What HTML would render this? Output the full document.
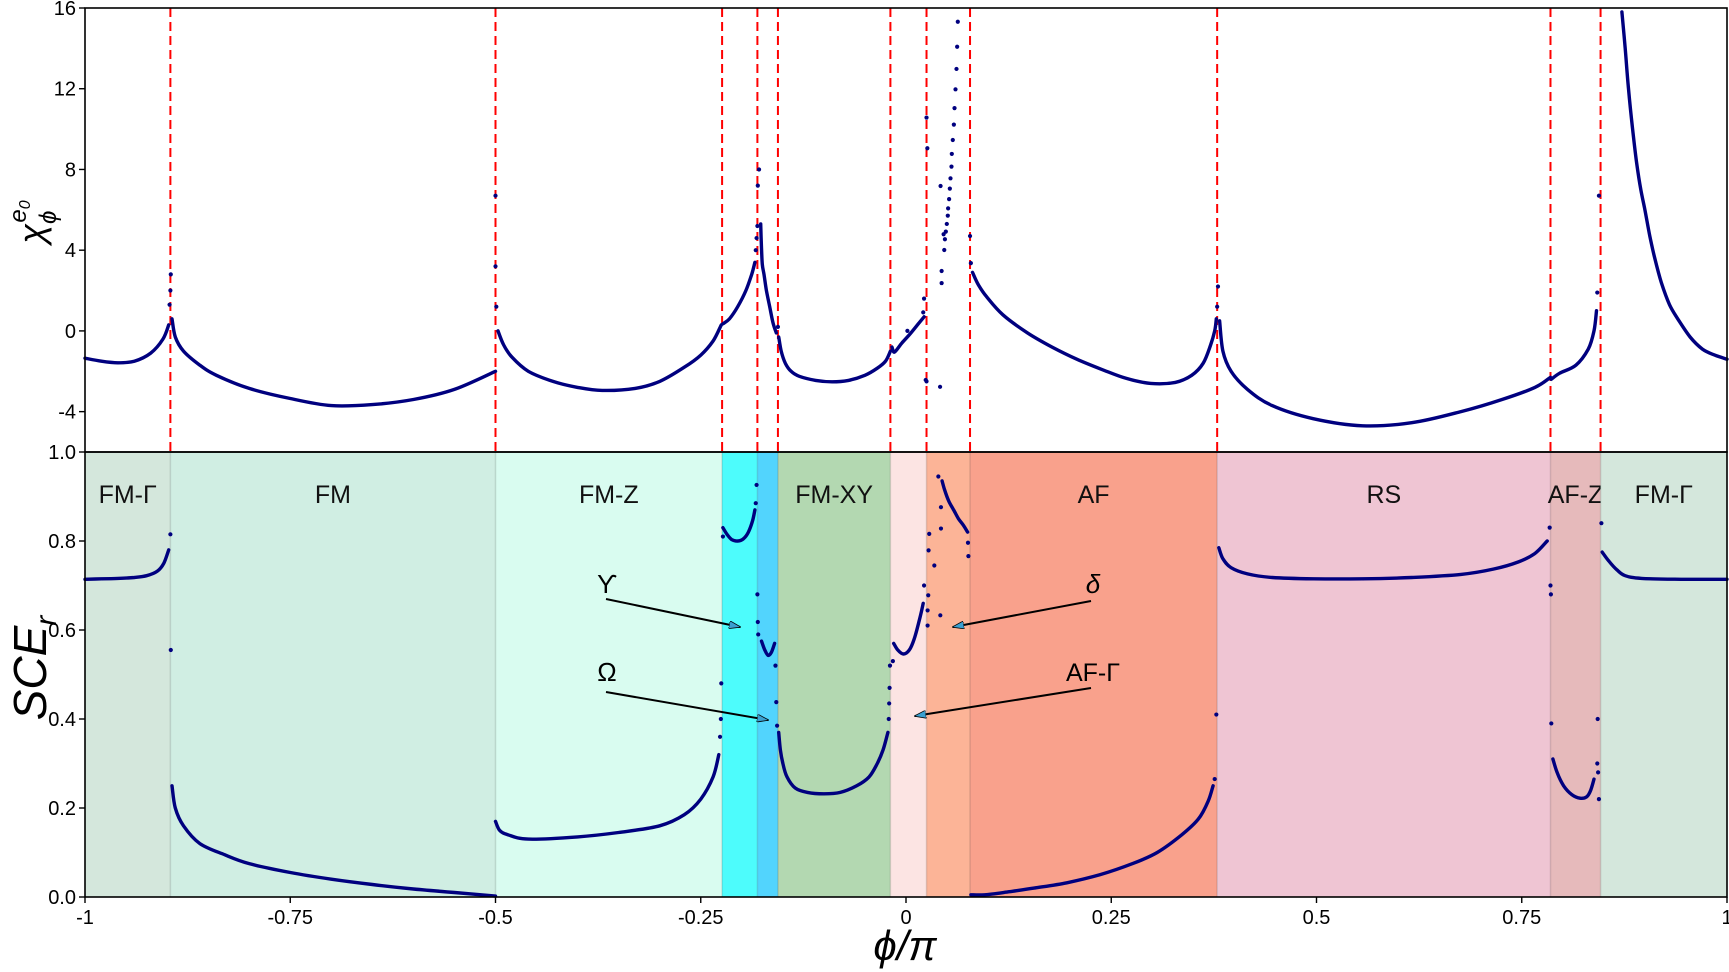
<!DOCTYPE html>
<html><head><meta charset="utf-8">
<style>
html,body{margin:0;padding:0;background:#fff;}
svg{display:block;}
text{font-family:"Liberation Sans","DejaVu Sans",sans-serif;}
</style></head>
<body>
<svg id="chart" width="1729" height="972" viewBox="0 0 1729 972" xmlns="http://www.w3.org/2000/svg">
<g id="regions"></g>
<g id="vlines"></g>
<g id="marks"></g>
<g id="axes"></g>
<g id="annot"></g>
</svg>
<script>
// ---- data ----
const boundaries = [-1, -0.896, -0.5, -0.224, -0.181, -0.156, -0.019, 0.025, 0.078, 0.379, 0.785, 0.846, 1];
const phaseNames = ["FM-Γ","FM","FM-Z","","","FM-XY","","","AF","RS","AF-Z","FM-Γ"];
const phaseColors = ["#d4e7dc","#d0eee3","#d9fcf0","#4dfcfc","#52d4fd","#b3d8b1","#fce4e3","#fcb497","#f9a18c","#efc5d3","#e6babb","#d4e7dc"];
const xTicks = [-1,-0.75,-0.5,-0.25,0,0.25,0.5,0.75,1];
const xTickLabels = ["-1","-0.75","-0.5","-0.25","0","0.25","0.5","0.75","1"];
const chiTicks = [-4,0,4,8,12,16];
const sceTicks = [0,0.2,0.4,0.6,0.8,1.0];
const sceTickLabels = ["0.0","0.2","0.4","0.6","0.8","1.0"];

const chiCurvePhi = [
 [-1,-0.98,-0.96,-0.94,-0.92,-0.905,-0.898],
 [-0.894,-0.89,-0.88,-0.86,-0.84,-0.80,-0.75,-0.70,-0.65,-0.60,-0.55,-0.5],
 [-0.497,-0.49,-0.48,-0.46,-0.43,-0.40,-0.37,-0.33,-0.30,-0.27,-0.25,-0.235,-0.225],
 [-0.223,-0.215,-0.205,-0.195,-0.188,-0.184],
 [-0.177,-0.176,-0.175,-0.173,-0.170,-0.166,-0.162,-0.158],
 [-0.155,-0.152,-0.147,-0.14,-0.13,-0.11,-0.09,-0.07,-0.05,-0.035,-0.025,-0.019],
 [-0.017,-0.014,-0.005,0.005,0.015,0.022],
 [0.081,0.088,0.098,0.118,0.148,0.178,0.208,0.238,0.268,0.298,0.328,0.348,0.362,0.371,0.376,0.378],
 [0.382,0.386,0.396,0.416,0.446,0.496,0.556,0.616,0.676,0.726,0.766,0.785],
 [0.786,0.796,0.816,0.831,0.838,0.841],
 [0.872,0.876,0.880,0.885,0.890,0.895,0.900,0.906,0.912,0.920,0.930,0.940,0.955,0.970,0.985,1.0]
];
const chiCurveVal = [
 [-1.35,-1.5,-1.58,-1.5,-1.1,-0.4,0.3],
 [0.6,-0.3,-1.0,-1.7,-2.2,-2.85,-3.35,-3.7,-3.65,-3.4,-2.9,-2.0],
 [0.0,-0.7,-1.3,-2.0,-2.5,-2.8,-2.95,-2.85,-2.5,-1.8,-1.2,-0.5,0.3],
 [0.35,0.6,1.2,2.0,2.8,3.4],
 [5.3,4.1,3.3,2.8,2.0,1.2,0.4,-0.1],
 [-0.3,-1.0,-1.6,-2.0,-2.25,-2.45,-2.52,-2.45,-2.2,-1.85,-1.5,-1.0],
 [-0.8,-1.05,-0.6,-0.15,0.35,0.7],
 [2.9,2.3,1.7,0.8,-0.1,-0.8,-1.4,-1.9,-2.35,-2.6,-2.55,-2.2,-1.6,-0.7,0.0,0.6],
 [0.5,-1.0,-2.0,-2.9,-3.7,-4.35,-4.7,-4.55,-4.0,-3.4,-2.8,-2.3],
 [-2.4,-2.1,-1.7,-0.9,0.0,1.0],
 [15.8,14.0,12.0,10.0,8.3,7.0,6.0,4.7,3.6,2.4,1.3,0.6,-0.3,-0.9,-1.2,-1.4]
];
const chiDotPhi = [-0.897,-0.896,-0.8955,-0.5,-0.5,-0.499,-0.183,-0.182,-0.181,-0.1805,-0.179,-0.156,
 0.0017,0.022,0.021,0.025,0.026,0.024,0.025,0.0415,
 0.0434,0.0434,0.0466,0.0474,0.0458,0.0485,0.0497,0.0509,0.0513,0.0525,0.0534,0.0542,0.0554,0.0558,0.0570,0.0583,0.0591,0.0603,0.0615,0.0623,0.0631,0.0421,
 0.078,0.079,0.379,0.380,0.842,0.844];
const chiDotVal = [1.3,2.0,2.8,6.7,3.2,1.2,4.0,4.6,5.2,7.2,8.0,0.2,
 0.0,1.6,0.92,10.57,9.05,-2.43,-2.5,-2.77,
 2.37,2.97,4.01,4.54,4.79,4.92,5.30,5.71,6.07,6.53,7.05,7.56,8.14,8.77,9.46,10.22,11.04,11.97,12.98,14.08,15.32,7.18,
 4.7,3.36,1.2,2.2,1.9,6.7];

const sceCurvePhi = [
 [-1,-0.98,-0.96,-0.94,-0.925,-0.912,-0.904,-0.898],
 [-0.894,-0.89,-0.88,-0.86,-0.83,-0.80,-0.75,-0.70,-0.65,-0.60,-0.55,-0.5],
 [-0.5,-0.495,-0.485,-0.46,-0.40,-0.35,-0.30,-0.27,-0.25,-0.235,-0.228],
 [-0.223,-0.218,-0.212,-0.205,-0.198,-0.192,-0.187,-0.184],
 [-0.176,-0.172,-0.168,-0.164,-0.160],
 [-0.155,-0.153,-0.15,-0.145,-0.135,-0.12,-0.10,-0.08,-0.06,-0.045,-0.035,-0.028,-0.022],
 [-0.015,-0.01,-0.003,0.004,0.01,0.016,0.021],
 [0.044,0.047,0.052,0.058,0.064,0.07,0.075],
 [0.079,0.096,0.126,0.156,0.196,0.236,0.276,0.306,0.336,0.356,0.368,0.374],
 [0.381,0.386,0.396,0.416,0.446,0.496,0.556,0.616,0.676,0.716,0.746,0.766,0.781],
 [0.788,0.793,0.801,0.811,0.821,0.829,0.834,0.838],
 [0.848,0.856,0.866,0.876,0.896,0.946,1.0]
];
const sceCurveVal = [
 [0.714,0.715,0.716,0.718,0.722,0.732,0.75,0.78],
 [0.25,0.2,0.16,0.12,0.095,0.075,0.055,0.04,0.028,0.018,0.01,0.002],
 [0.17,0.15,0.14,0.13,0.135,0.145,0.16,0.185,0.22,0.27,0.32],
 [0.83,0.815,0.803,0.80,0.805,0.82,0.845,0.87],
 [0.575,0.555,0.543,0.55,0.57],
 [0.37,0.33,0.30,0.27,0.245,0.235,0.232,0.235,0.25,0.27,0.30,0.33,0.37],
 [0.57,0.555,0.546,0.555,0.58,0.62,0.66],
 [0.935,0.915,0.89,0.87,0.85,0.835,0.82],
 [0.005,0.005,0.012,0.02,0.032,0.05,0.075,0.10,0.14,0.175,0.215,0.25],
 [0.785,0.76,0.74,0.726,0.718,0.715,0.715,0.718,0.725,0.737,0.753,0.772,0.80],
 [0.31,0.28,0.25,0.23,0.222,0.225,0.24,0.265],
 [0.775,0.755,0.735,0.722,0.716,0.714,0.714]
];
const sceDotPhi = [-0.896,-0.8955,-0.2265,-0.2255,-0.225,-0.223,-0.183,-0.182,
 -0.181,-0.1805,-0.180,-0.159,-0.158,-0.157,-0.021,-0.0205,-0.020,-0.0195,-0.016,0.022,
 0.0271,0.0263,0.0263,0.0283,0.0275,0.0345,0.0418,0.0426,0.0426,0.0394,0.0755,0.076,
 0.376,0.378,0.784,0.785,0.7855,0.786,0.842,0.8425,0.843,0.844,0.847];
const sceDotVal = [0.815,0.555,0.36,0.40,0.48,0.81,0.885,0.926,
 0.68,0.618,0.59,0.52,0.438,0.385,0.40,0.435,0.47,0.52,0.53,0.70,
 0.678,0.644,0.61,0.816,0.779,0.745,0.633,0.828,0.876,0.945,0.796,0.766,
 0.265,0.41,0.83,0.70,0.68,0.39,0.30,0.40,0.28,0.22,0.84];

// ---- layout ----
const X0 = 85, X1 = 1727;
const TOP0 = 8, TOP1 = 452;
const BOT0 = 452, BOT1 = 897;
const chiMin = -6, chiMax = 16;
const xs = p => X0 + (p + 1) / 2 * (X1 - X0);
const yChi = v => TOP1 - (v - chiMin) / (chiMax - chiMin) * (TOP1 - TOP0);
const ySce = v => BOT1 - v * (BOT1 - BOT0);
const NS = "http://www.w3.org/2000/svg";
function mk(tag, attrs, parent){ const e=document.createElementNS(NS,tag); for(const k in attrs) e.setAttribute(k,attrs[k]); parent.appendChild(e); return e; }

const regions = document.getElementById('regions');
const vlines = document.getElementById('vlines');
const marks = document.getElementById('marks');
const axes = document.getElementById('axes');

for (let i = 0; i < phaseColors.length; i++) {
  const r = mk('rect', {x: xs(boundaries[i]), y: BOT0, width: xs(boundaries[i+1]) - xs(boundaries[i]), height: BOT1 - BOT0, fill: phaseColors[i]}, regions);
  
  
  if (i > 0) {
    const l = mk('line', {x1: xs(boundaries[i]), x2: xs(boundaries[i]), y1: BOT0, y2: BOT1, stroke: 'rgba(0,0,0,0.12)', 'stroke-width': 1.5}, regions);
    
    
  }
  if (phaseNames[i]) {
    const t = mk('text', {x: (xs(boundaries[i]) + xs(boundaries[i+1])) / 2, y: 503, 'text-anchor': 'middle', 'font-size': 25, fill: '#111'}, regions);
    t.textContent = phaseNames[i];
    
    
  }
}
for (let i = 1; i < boundaries.length - 1; i++) {
  const l = mk('line', {x1: xs(boundaries[i]), x2: xs(boundaries[i]), y1: TOP0, y2: TOP1, stroke: '#ff0000', 'stroke-width': 2, 'stroke-dasharray': '9,5'}, vlines);
  
  
}
function smoothPath(pts) {
  if (pts.length < 3) return 'M' + pts.map(p => p[0].toFixed(1) + ',' + p[1].toFixed(1)).join(' L');
  let d = 'M' + pts[0][0].toFixed(1) + ',' + pts[0][1].toFixed(1);
  for (let i = 0; i < pts.length - 1; i++) {
    const p0 = pts[Math.max(0, i - 1)], p1 = pts[i], p2 = pts[i + 1], p3 = pts[Math.min(pts.length - 1, i + 2)];
    const c1x = p1[0] + (p2[0] - p0[0]) / 6, c1y = p1[1] + (p2[1] - p0[1]) / 6;
    const c2x = p2[0] - (p3[0] - p1[0]) / 6, c2y = p2[1] - (p3[1] - p1[1]) / 6;
    d += ' C' + c1x.toFixed(1) + ',' + c1y.toFixed(1) + ' ' + c2x.toFixed(1) + ',' + c2y.toFixed(1) + ' ' + p2[0].toFixed(1) + ',' + p2[1].toFixed(1);
  }
  return d;
}
function drawCurves(P, V, yf, name) {
  for (let s = 0; s < P.length; s++) {
    const pts = P[s].map((p, j) => [xs(p), yf(V[s][j])]);
    const pl = mk('path', {d: smoothPath(pts), fill: 'none', stroke: '#00007f', 'stroke-width': 3.4, 'stroke-linejoin': 'round', 'stroke-linecap': 'round'}, marks);
    
    
  }
}
function drawDots(P, V, yf, name) {
  for (let j = 0; j < P.length; j++) {
    const c = mk('circle', {cx: xs(P[j]), cy: yf(V[j]), r: 2.1, fill: '#00007f'}, marks);
    
    
  }
}
drawCurves(chiCurvePhi, chiCurveVal, yChi, 'chi-curve');
drawDots(chiDotPhi, chiDotVal, yChi, 'chi-point');
drawCurves(sceCurvePhi, sceCurveVal, ySce, 'sce-curve');
drawDots(sceDotPhi, sceDotVal, ySce, 'sce-point');

const f1 = mk('rect', {x: X0, y: TOP0, width: X1 - X0, height: TOP1 - TOP0, fill: 'none', stroke: '#000', 'stroke-width': 1.6}, axes);


const f2 = mk('rect', {x: X0, y: BOT0, width: X1 - X0, height: BOT1 - BOT0, fill: 'none', stroke: '#000', 'stroke-width': 1.6}, axes);


chiTicks.forEach(v => {
  const y = yChi(v);
  const tk = mk('line', {x1: X0 - 6, x2: X0, y1: y, y2: y, stroke: '#000', 'stroke-width': 1.4}, axes);
  
  
  const t = mk('text', {x: X0 - 9, y: y + 7, 'text-anchor': 'end', 'font-size': 20, fill: '#000'}, axes);
  t.textContent = String(v);
  
  
});
sceTicks.forEach((v, i) => {
  const y = ySce(v);
  const tk = mk('line', {x1: X0 - 6, x2: X0, y1: y, y2: y, stroke: '#000', 'stroke-width': 1.4}, axes);
  
  
  const t = mk('text', {x: X0 - 9, y: y + 7, 'text-anchor': 'end', 'font-size': 20, fill: '#000'}, axes);
  t.textContent = sceTickLabels[i];
  
  
});
xTicks.forEach((p, i) => {
  const x = xs(p);
  const tk = mk('line', {x1: x, x2: x, y1: BOT1, y2: BOT1 + 6, stroke: '#000', 'stroke-width': 1.4}, axes);
  
  
  const t = mk('text', {x: x, y: BOT1 + 27, 'text-anchor': 'middle', 'font-size': 20, fill: '#000'}, axes);
  t.textContent = xTickLabels[i];
  
  
});
</script>
<svg style="position:absolute;left:0;top:0" width="1729" height="972">
<defs><marker id="ah" markerWidth="12" markerHeight="8" refX="11" refY="4" orient="auto" markerUnits="userSpaceOnUse"><path d="M0,0 L12,4 L0,8 z" fill="#3aa0d0" stroke="#000" stroke-width="0.8"/></marker></defs>
<text x="905" y="960" text-anchor="middle" font-family="Liberation Serif,serif" font-style="italic" font-size="42">ϕ/π</text>
<text transform="translate(44,222) rotate(-90)" text-anchor="middle" font-family="Liberation Serif,serif" font-style="italic" font-size="36">χ<tspan font-size="24" dy="12">ϕ</tspan><tspan font-size="24" dx="-12" dy="-30">e</tspan><tspan font-size="16" dy="4">0</tspan></text>
<text transform="translate(46,668) rotate(-90)" text-anchor="middle" font-family="Liberation Serif,serif" font-style="italic" font-size="46">SCE<tspan font-size="30" dy="10">r</tspan></text>
<text x="607" y="593" text-anchor="middle" font-family="Liberation Serif,serif" font-size="26">ϒ</text>
<line x1="606" y1="599" x2="740" y2="627" stroke="#000" stroke-width="2" marker-end="url(#ah)"/>
<text x="607" y="681" text-anchor="middle" font-family="Liberation Serif,serif" font-size="26">Ω</text>
<line x1="606" y1="692" x2="768" y2="720" stroke="#000" stroke-width="2" marker-end="url(#ah)"/>
<text x="1093" y="593" text-anchor="middle" font-family="Liberation Serif,serif" font-style="italic" font-size="26">δ</text>
<line x1="1091" y1="601" x2="953" y2="627" stroke="#000" stroke-width="2" marker-end="url(#ah)"/>
<text x="1093" y="681" text-anchor="middle" font-size="25" font-family="Liberation Sans,sans-serif">AF-Γ</text>
<line x1="1091" y1="688" x2="915" y2="716" stroke="#000" stroke-width="2" marker-end="url(#ah)"/>
</svg>
</body></html>
